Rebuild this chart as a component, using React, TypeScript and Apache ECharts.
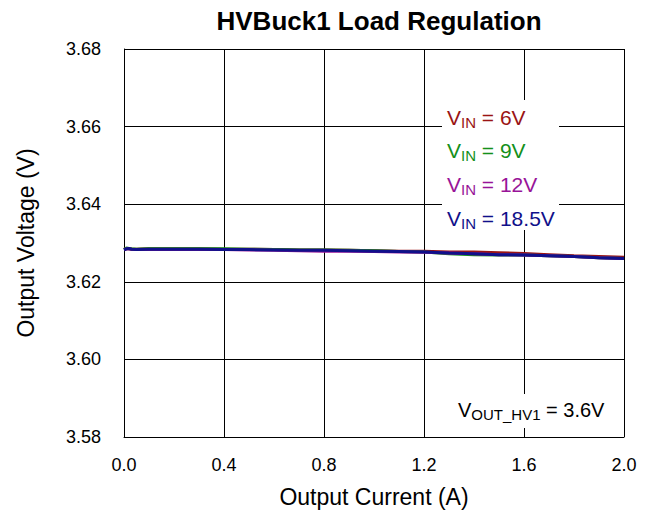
import React, { useEffect, useRef } from "react";
import * as echarts from "echarts";

const current = [0, 0.01, 0.02, 0.03, 0.05, 0.1, 0.2, 0.3, 0.4, 0.5, 0.6, 0.7, 0.8, 0.9, 1.0, 1.1, 1.2, 1.3, 1.4, 1.5, 1.6, 1.7, 1.8, 1.9, 2.0];

const vin6 = [3.6284, 3.6285, 3.6285, 3.6284, 3.6284, 3.6285, 3.6285, 3.6285, 3.6284, 3.6284, 3.6283, 3.6282, 3.6282, 3.6281, 3.628, 3.6279, 3.6279, 3.6277, 3.6277, 3.6275, 3.6273, 3.627, 3.6267, 3.6265, 3.6263];
const vin9 = [3.6283, 3.6287, 3.6286, 3.6285, 3.6284, 3.6285, 3.6285, 3.6285, 3.6285, 3.6284, 3.6283, 3.6282, 3.6282, 3.6281, 3.628, 3.6278, 3.6277, 3.6272, 3.627, 3.6269, 3.6269, 3.6267, 3.6265, 3.6262, 3.626];
const vin12 = [3.6283, 3.6285, 3.6285, 3.6284, 3.6283, 3.6283, 3.6283, 3.6283, 3.6283, 3.6282, 3.6281, 3.628, 3.6279, 3.6279, 3.6278, 3.6277, 3.6276, 3.6274, 3.6272, 3.627, 3.6269, 3.6267, 3.6265, 3.6262, 3.626];
const vin18p5 = [3.6282, 3.6285, 3.6286, 3.6284, 3.6283, 3.6284, 3.6284, 3.6284, 3.6283, 3.6283, 3.6282, 3.6281, 3.6281, 3.628, 3.6279, 3.6278, 3.6277, 3.6274, 3.6272, 3.627, 3.6269, 3.6267, 3.6265, 3.6262, 3.626];

const seriesNames = ["6V", "9V", "12V", "18.5V"];
const seriesColors = ["#9a1414", "#14901a", "#981498", "#10108a"];
const seriesData = [vin6, vin9, vin12, vin18p5];

const xTicks = { min: 0, max: 2, interval: 0.4 };
const yTicks = { min: 3.58, max: 3.68, interval: 0.02 };

const FONT = "Liberation Sans, Arial, sans-serif";

export default function App() {
  const ref = useRef<HTMLDivElement>(null);
  useEffect(() => {
    if (!ref.current) return;
    const chart = echarts.init(ref.current, null, { renderer: "svg" });
    const legendTexts = seriesNames.map((n, i) => ({
      type: "text",
      x: 447,
      y: 117 + i * 33.7,
      z: 110,
      style: {
        text: `{v|V}{s|IN}{v| = ${n}}`,
        verticalAlign: "middle",
        rich: {
          v: { fontSize: 21, fontFamily: FONT, fill: seriesColors[i] },
          s: { fontSize: 15, fontFamily: FONT, fill: seriesColors[i], padding: [10, 0, 0, 0] },
        },
      },
    }));
    chart.setOption({
      animation: false,
      backgroundColor: "#ffffff",
      textStyle: { fontFamily: FONT },
      title: {
        text: "HVBuck1 Load Regulation",
        left: 374,
        top: 3,
        textAlign: "center",
        textStyle: { fontSize: 26, fontWeight: "bold", color: "#000", fontFamily: FONT },
      },
      grid: { left: 124, right: 28, top: 49, bottom: 82, containLabel: false },
      xAxis: {
        type: "value",
        min: xTicks.min,
        max: xTicks.max,
        interval: xTicks.interval,
        name: "Output Current (A)",
        nameLocation: "middle",
        nameGap: 48,
        nameTextStyle: { fontSize: 23, color: "#000", fontFamily: FONT },
        axisLine: { show: true, lineStyle: { color: "#000", width: 1 } },
        axisTick: { show: false },
        axisLabel: { fontSize: 18, color: "#000", margin: 19, fontFamily: FONT, formatter: (v: number) => v.toFixed(1) },
        splitLine: { show: true, lineStyle: { color: "#000", width: 1 } },
      },
      yAxis: {
        type: "value",
        min: yTicks.min,
        max: yTicks.max,
        interval: yTicks.interval,
        name: "Output Voltage (V)",
        nameLocation: "middle",
        nameGap: 87,
        nameTextStyle: { fontSize: 23, color: "#000", fontFamily: FONT },
        axisLine: { show: true, lineStyle: { color: "#000", width: 1 } },
        axisTick: { show: false },
        axisLabel: { fontSize: 18, color: "#000", margin: 23, fontFamily: FONT, formatter: (v: number) => v.toFixed(2) },
        splitLine: { show: true, lineStyle: { color: "#000", width: 1 } },
      },
      series: seriesData.map((d, i) => ({
        type: "line",
        name: seriesNames[i],
        data: d.map((v, j) => [current[j], v]),
        showSymbol: false,
        symbol: "none",
        lineStyle: { color: seriesColors[i], width: 3 },
        itemStyle: { color: seriesColors[i] },
        z: 2 + i,
      })),
      graphic: [
        { type: "rect", z: 100, shape: { x: 442, y: 100, width: 117, height: 130 }, style: { fill: "#ffffff" } },
        ...legendTexts,
        { type: "rect", z: 100, shape: { x: 450, y: 394, width: 168, height: 34 }, style: { fill: "#ffffff" } },
        {
          type: "text",
          x: 458,
          y: 410,
          z: 110,
          style: {
            text: "{v|V}{s|OUT_HV1}{v| = 3.6V}",
            verticalAlign: "middle",
            rich: {
              v: { fontSize: 20, fontFamily: FONT, fill: "#000" },
              s: { fontSize: 15, fontFamily: FONT, fill: "#000", padding: [9, 0, 0, 0] },
            },
          },
        },
      ],
    } as any);
    return () => chart.dispose();
  }, []);
  return <div ref={ref} style={{ position: "fixed", left: 0, top: 0, width: 652, height: 519 }} />;
}
